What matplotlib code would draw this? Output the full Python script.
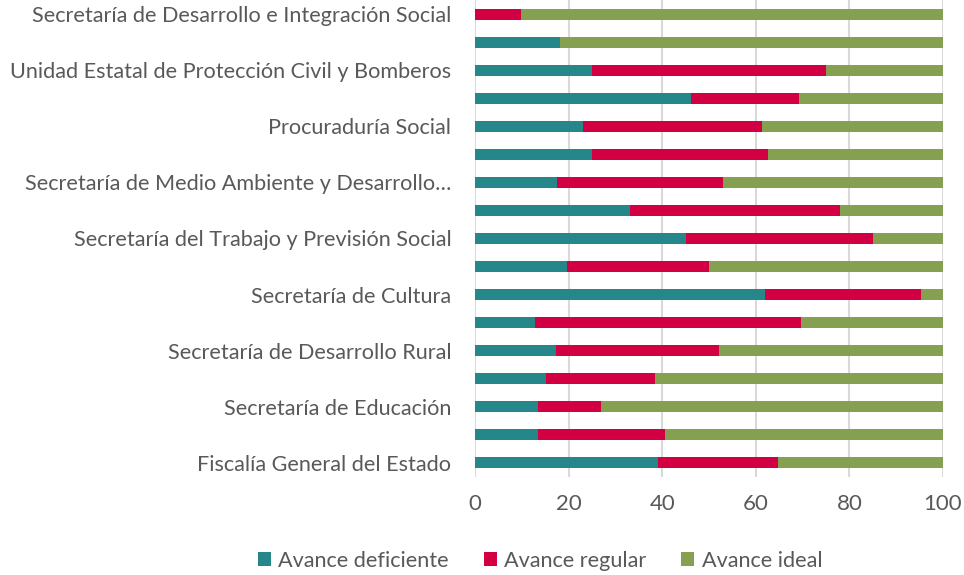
import matplotlib
matplotlib.use("Agg")
import matplotlib.pyplot as plt
import numpy as np

# Categories from bottom to top (only every other row is labelled in the reference)
categories = [
    "Fiscalía General del Estado", "",
    "Secretaría de Educación", "",
    "Secretaría de Desarrollo Rural", "",
    "Secretaría de Cultura", "",
    "Secretaría del Trabajo y Previsión Social", "",
    "Secretaría de Medio Ambiente y Desarrollo…", "",
    "Procuraduría Social", "",
    "Unidad Estatal de Protección Civil y Bomberos", "",
    "Secretaría de Desarrollo e Integración Social",
]
deficiente = [39.2, 13.4, 13.4, 15.1, 17.3, 12.9, 62.0, 19.7, 45.0, 33.2, 17.5, 25.0, 23.1, 46.1, 25.0, 18.1, 0.0]
regular    = [25.5, 27.2, 13.5, 23.3, 34.8, 56.7, 33.4, 30.3, 40.0, 44.7, 35.5, 37.5, 38.3, 23.2, 50.1, 0.0, 9.9]
ideal      = [35.3, 59.4, 73.1, 61.6, 47.9, 30.4, 4.6, 50.0, 15.0, 22.1, 47.0, 37.5, 38.6, 30.7, 24.9, 81.9, 90.1]
series_names = ["Avance deficiente", "Avance regular", "Avance ideal"]
colors = ["#25878A", "#D20043", "#84A050"]
xticks = [0, 20, 40, 60, 80, 100]

plt.rcParams['font.family'] = ['Lato', 'DejaVu Sans']
fig = plt.figure(figsize=(9.64, 5.75), dpi=100)
ax = fig.add_axes([475/964, 1 - 477/575, (943 - 475)/964, 477/575])

y = np.arange(len(categories))
d = np.array(deficiente); r = np.array(regular); g = np.array(ideal)
h = 0.39
ax.barh(y, d, height=h, color=colors[0], label=series_names[0], zorder=3)
ax.barh(y, r, left=d, height=h, color=colors[1], label=series_names[1], zorder=3)
ax.barh(y, g, left=d + r, height=h, color=colors[2], label=series_names[2], zorder=3)

ax.set_xlim(0, 100)
ax.set_ylim(-0.5, len(categories) - 0.5)
ax.set_xticks(xticks)
ax.set_yticks(y)
ax.set_yticklabels(categories)
ax.tick_params(axis='both', length=0, colors="#595959")
ax.tick_params(axis='x', pad=12, labelsize=16)
ax.tick_params(axis='y', pad=17, labelsize=15.6)
for s in ax.spines.values():
    s.set_visible(False)
ax.grid(axis='x', color="#D9D9D9", linewidth=1.5, zorder=0)

handles, labels = ax.get_legend_handles_labels()
fig.legend(handles, labels, loc='center', bbox_to_anchor=(540/964, 1 - 561/575),
           ncol=3, frameon=False, fontsize=15.6, labelcolor="#595959",
           handlelength=0.6, handleheight=0.6, handletextpad=0.35, columnspacing=1.6)

fig.savefig("out.png", dpi=100)
